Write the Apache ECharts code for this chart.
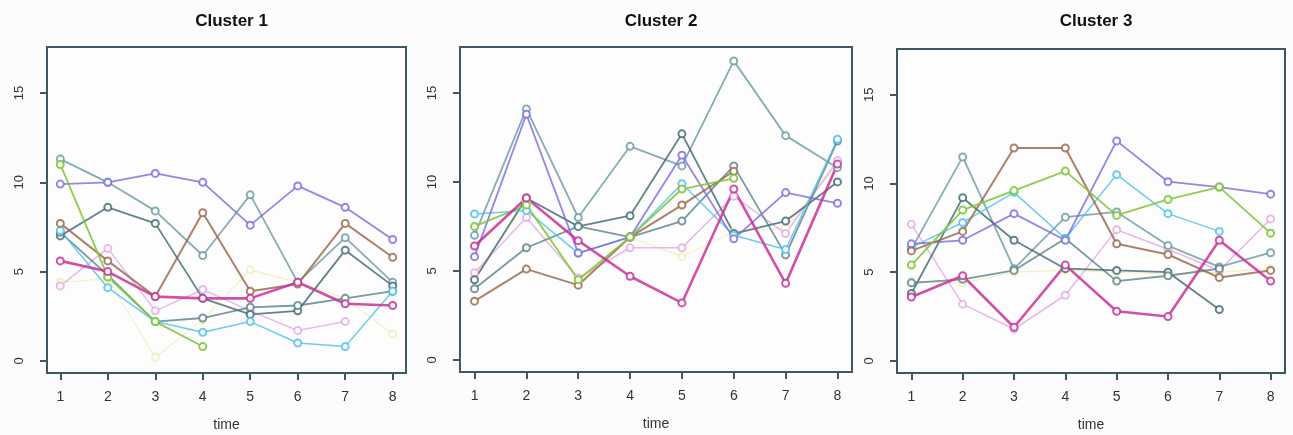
<!DOCTYPE html>
<html>
<head>
<meta charset="utf-8">
<script src="https://cdn.jsdelivr.net/npm/echarts@6/dist/echarts.min.js"></script>
<style>
html,body{margin:0;padding:0;background:#fcfcfd;}
#chart{width:1293px;height:435px;}
</style>
</head>
<body>
<div id="chart"></div>
<script>
// ---- data ----
const times = [1, 2, 3, 4, 5, 6, 7, 8];
const xTickValues = [1, 2, 3, 4, 5, 6, 7, 8];
const yTickValues = [0, 5, 10, 15];
const panelTitles = ['Cluster 1', 'Cluster 2', 'Cluster 3'];
const xAxisName = 'time';

// Cluster 1
const c1Yellow  = [4.4, 4.6, 0.2, 2.3, 5.1, 4.4, 3.5, 1.5];
const c1Pink    = [4.2, 6.3, 2.8, 4.0, 2.8, 1.7, 2.2, null];
const c1TealA   = [11.3, 10.0, 8.4, 5.9, 9.3, 4.4, 6.9, 4.4];
const c1TealB   = [7.0, 8.6, 7.7, 3.5, 2.6, 2.8, 6.2, 4.2];
const c1TealC   = [7.2, 4.8, 2.2, 2.4, 3.0, 3.1, 3.5, 3.9];
const c1Cyan    = [7.3, 4.1, 2.2, 1.6, 2.2, 1.0, 0.8, 3.9];
const c1Purple  = [9.9, 10.0, 10.5, 10.0, 7.6, 9.8, 8.6, 6.8];
const c1Brown   = [7.7, 5.6, 3.6, 8.3, 3.9, 4.3, 7.7, 5.8];
const c1Green   = [11.0, 4.7, 2.2, 0.8, null, null, null, null];
const c1Magenta = [5.6, 5.0, 3.6, 3.5, 3.5, 4.4, 3.2, 3.1];

// Cluster 2
const c2Yellow  = [4.7, 8.9, 4.4, 6.9, 5.8, 7.2, 7.4, 11.0];
const c2Pink    = [4.9, 8.0, 4.6, 6.3, 6.3, 9.2, 7.1, 11.2];
const c2TealA   = [7.0, 14.1, 8.0, 12.0, 10.9, 16.8, 12.6, 10.8];
const c2TealB   = [4.5, 9.1, 7.5, 8.1, 12.7, 7.1, 7.8, 10.0];
const c2TealC   = [4.0, 6.3, 7.5, 6.9, 7.8, 10.9, 5.9, 12.3];
const c2Cyan    = [8.2, 8.4, 6.0, 6.9, 9.9, 7.0, 6.2, 12.4];
const c2Purple  = [5.8, 13.8, 6.0, 6.9, 11.5, 6.8, 9.4, 8.8];
const c2Brown   = [3.3, 5.1, 4.2, 6.9, 8.7, 10.6, null, null];
const c2Green   = [7.5, 8.7, 4.5, 6.9, 9.6, 10.2, null, null];
const c2Magenta = [6.4, 9.1, 6.7, 4.7, 3.2, 9.6, 4.3, 11.0];

// Cluster 3
const c3Yellow  = [4.5, 4.4, 5.0, 5.1, 5.0, 4.9, 5.0, 5.2];
const c3Pink    = [7.7, 3.2, 1.8, 3.7, 7.4, 6.3, 5.1, 8.0];
const c3TealA   = [6.3, 11.5, 5.2, 8.1, 8.4, 6.5, 5.3, 6.1];
const c3TealB   = [3.8, 9.2, 6.8, 5.2, 5.1, 5.0, 2.9, null];
const c3TealC   = [4.4, 4.6, 5.1, 6.9, 4.5, 4.8, 5.2, null];
const c3Cyan    = [6.4, 7.8, 9.5, 6.9, 10.5, 8.3, 7.3, null];
const c3Purple  = [6.6, 6.8, 8.3, 6.8, 12.4, 10.1, 9.8, 9.4];
const c3Brown   = [6.2, 7.3, 12.0, 12.0, 6.6, 6.0, 4.7, 5.1];
const c3Green   = [5.4, 8.5, 9.6, 10.7, 8.2, 9.1, 9.8, 7.2];
const c3Magenta = [3.6, 4.8, 1.9, 5.4, 2.8, 2.5, 6.8, 4.5];

// ---- styles ----
const styles = {
  yellow:  {c: 'rgba(232,232,150,0.55)', w: 1.2},
  pink:    {c: 'rgba(222,150,220,0.65)', w: 1.6},
  tealA:   {c: 'rgba(95,145,155,0.75)',  w: 1.8},
  tealB:   {c: 'rgba(60,100,110,0.8)',   w: 1.8},
  tealC:   {c: 'rgba(75,120,128,0.75)',  w: 1.8},
  cyan:    {c: 'rgba(80,195,235,0.85)',  w: 1.5},
  purple:  {c: 'rgba(120,105,220,0.8)',  w: 1.8},
  brown:   {c: 'rgba(150,100,70,0.8)',   w: 2.0},
  green:   {c: 'rgba(130,200,60,0.9)',   w: 1.8},
  magenta: {c: 'rgba(200,50,150,0.85)',  w: 2.6}
};

const clusters = [
  {yellow: c1Yellow, pink: c1Pink, tealA: c1TealA, tealB: c1TealB, tealC: c1TealC, cyan: c1Cyan, purple: c1Purple, brown: c1Brown, green: c1Green, magenta: c1Magenta},
  {yellow: c2Yellow, pink: c2Pink, tealA: c2TealA, tealB: c2TealB, tealC: c2TealC, cyan: c2Cyan, purple: c2Purple, brown: c2Brown, green: c2Green, magenta: c2Magenta},
  {yellow: c3Yellow, pink: c3Pink, tealA: c3TealA, tealB: c3TealB, tealC: c3TealC, cyan: c3Cyan, purple: c3Purple, brown: c3Brown, green: c3Green, magenta: c3Magenta}
];

const grids = [
  {left: 47, top: 47, width: 359, height: 326},
  {left: 460, top: 47, width: 392, height: 325},
  {left: 897, top: 49, width: 388, height: 324}
];

const frameColor = '#3b5962';
const font = 'Liberation Sans, Arial, sans-serif';

const option = {
  backgroundColor: '#fcfcfd',
  animation: false,
  title: panelTitles.map((t, i) => ({
    text: t,
    left: grids[i].left + grids[i].width / 2,
    top: 8,
    textAlign: 'center',
    textStyle: {fontFamily: font, fontWeight: 'bold', fontSize: 17, color: '#111'}
  })),
  grid: grids.map(g => Object.assign({show: true, borderColor: frameColor, borderWidth: 2, backgroundColor: '#fdfdfe', containLabel: false, outerBoundsMode: 'none'}, g)),
  xAxis: grids.map((g, i) => ({
    type: 'value', gridIndex: i, min: 0.72, max: 8.28, position: 'bottom',
    name: xAxisName, nameLocation: 'middle', nameGap: 45,
    nameTextStyle: {fontFamily: font, fontSize: 14, color: '#333'},
    axisLine: {show: false, onZero: false},
    splitLine: {show: false},
    axisTick: {show: true, length: 7, customValues: xTickValues, lineStyle: {color: frameColor, width: 2}},
    axisLabel: {customValues: xTickValues, margin: 17, fontFamily: font, fontSize: 14, color: '#333'}
  })),
  yAxis: grids.map((g, i) => ({
    type: 'value', gridIndex: i, min: -0.68, max: 17.58, position: 'left',
    axisLine: {show: false, onZero: false},
    splitLine: {show: false},
    axisTick: {show: true, length: 7, customValues: yTickValues, lineStyle: {color: frameColor, width: 2}},
    axisLabel: {customValues: yTickValues, rotate: 90, margin: 21, fontFamily: font, fontSize: 13, color: '#333'}
  })),
  series: []
};

clusters.forEach((cl, gi) => {
  Object.keys(cl).forEach(key => {
    const st = styles[key];
    option.series.push({
      type: 'line',
      xAxisIndex: gi, yAxisIndex: gi,
      data: times.map((t, k) => [t, cl[key][k] == null ? '-' : cl[key][k]]),
      connectNulls: false,
      symbol: 'emptyCircle',
      symbolSize: 7,
      showAllSymbol: true,
      lineStyle: {color: st.c, width: st.w},
      itemStyle: {color: st.c, borderColor: st.c, borderWidth: 1.5},
      emphasis: {disabled: true},
      z: 2
    });
  });
});

const chart = echarts.init(document.getElementById('chart'), null, {renderer: 'canvas'});
chart.setOption(option);
</script>
</body>
</html>
